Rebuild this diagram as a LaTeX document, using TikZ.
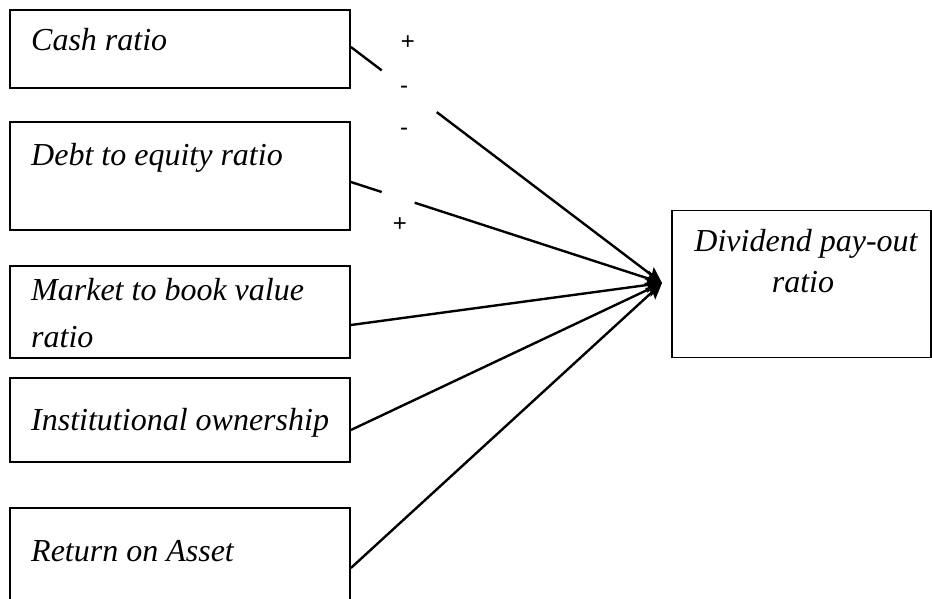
\documentclass[tikz,border=0pt]{standalone}
\usepackage{fontspec}
\setmainfont{Liberation Serif}
\newfontfamily\signfont{Liberation Sans}
\usetikzlibrary{calc,arrows.meta}
\begin{document}
\begin{tikzpicture}[x=1pt,y=-1pt,
  box/.style={draw,line width=1.8pt,rectangle,inner sep=0pt},
  lbl/.style={anchor=base west,inner sep=0pt,font=\fontsize{32}{38}\selectfont\itshape},
  sign/.style={inner sep=0pt,font=\signfont\fontsize{24}{28}\selectfont},
  conn/.style={line width=2.4pt},
  tipped/.style={conn,-{Stealth[length=16pt,width=15pt,inset=3pt]}}]
\useasboundingbox (0,0) rectangle (932,599);
% boxes
\node[box,minimum width=340pt,minimum height=78pt] (cash) at (180,49) {};
\node[box,minimum width=340pt,minimum height=108pt] (debt) at (180,176) {};
\node[box,minimum width=340pt,minimum height=92pt] (mtb) at (180,312) {};
\node[box,minimum width=340pt,minimum height=84pt] (inst) at (180,420) {};
\node[box,minimum width=340pt,minimum height=92pt] (roa) at (180,554) {};
\node[box,minimum width=259pt,minimum height=147pt] (div) at (801.5,284) {};
% texts
\node[lbl] (tcash) at (31,51) {Cash ratio};
\node[lbl] (tdebt) at (31,165) {Debt to equity ratio};
\node[lbl] (tmtb1) at (31,300) {Market to book value};
\node[lbl] (tmtb2) at (31,347) {ratio};
\node[lbl] (tinst) at (31,430) {Institutional ownership};
\node[lbl] (troa) at (31,561) {Return on Asset};
\node[lbl,anchor=base] (tdiv1) at (806,251) {Dividend pay-out};
\node[lbl,anchor=base] (tdiv2) at (803,292) {ratio};
% signs
\node[sign] (s1) at (408,43) {+};
\node[sign] (s2) at (404,90) {-};
\node[sign] (s3) at (404,132) {-};
\node[sign] (s4) at (400,225) {+};
% connector start points and tip
\coordinate (tip) at (662,283);
\coordinate (acash) at (cash.east |- 0,47);
\coordinate (adebt) at (debt.east |- 0,182);
\coordinate (amtb) at (mtb.east |- 0,325);
\coordinate (ainst) at (inst.east |- 0,430);
\coordinate (aroa) at (roa.east |- 0,568);
% connectors
\draw[conn] (acash) -- ($(acash)!0.099!(tip)$);
\draw[tipped] ($(acash)!0.276!(tip)$) -- (tip);
\draw[conn] (adebt) -- ($(adebt)!0.099!(tip)$);
\draw[tipped] ($(adebt)!0.205!(tip)$) -- (tip);
\draw[tipped] (amtb) -- (tip);
\draw[tipped] (ainst) -- (tip);
\draw[tipped] (aroa) -- (tip);
\end{tikzpicture}
\end{document}
